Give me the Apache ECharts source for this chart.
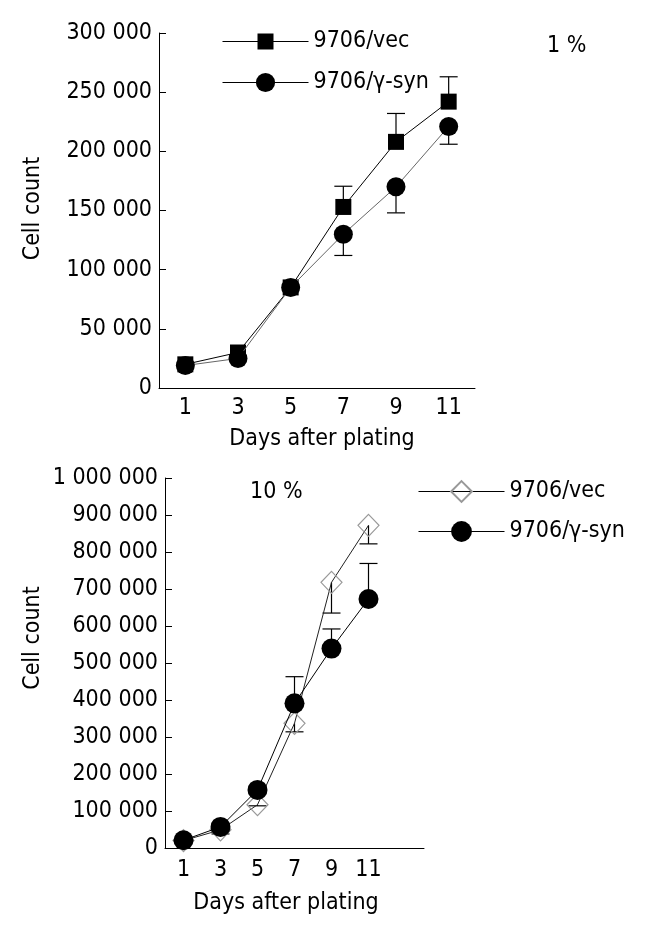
<!DOCTYPE html>
<html>
<head>
<meta charset="utf-8">
<script src="https://cdn.jsdelivr.net/npm/echarts@6/dist/echarts.min.js"></script>
<style>
html,body{margin:0;padding:0;background:#fff;}
#c{width:652px;height:933px;}
</style>
</head>
<body>
<div id="c"></div>
<script>
// ---- data ----
const daysTop = ['1','3','5','7','9','11'];
const daysBottom = ['1','3','5','7','9','11',''];

const vec1 = [20000, 30000, 85000, 153000, 208000, 242000];
const vec1Err = [0, 0, 0, 17500, 24000, 21000];
const syn1 = [19000, 25000, 85000, 130000, 170000, 221000];
const syn1Err = [0, 0, 0, 18000, 22000, 15000];

const vec10 = [20000, 49000, 117000, 337000, 718000, 872000];
const vec10Err = [0, 11000, 3000, 23000, 83000, 50000];
const syn10 = [21000, 57000, 157000, 391000, 539000, 673000];
const syn10Err = [0, 0, 0, 72000, 53000, 96000];

const nameMap = {vec1:'9706/vec', syn1:'9706/γ-syn', vec10:'9706/vec', syn10:'9706/γ-syn'};

const FONT = '"DejaVu Sans Condensed", "DejaVu Sans", sans-serif';
const FS = 23;
const fmt = v => String(v).replace(/\B(?=(\d{3})+(?!\d))/g, ' ');

function errSeries(vals, errs, dir, xi, yi) {
  const data = vals.map((v, i) => [i, v, v + dir * errs[i], errs[i]]);
  return {
    type: 'custom', xAxisIndex: xi, yAxisIndex: yi, z: 1, silent: true,
    data: data,
    renderItem: function (params, api) {
      if (api.value(3) <= 0) return null;
      const p0 = api.coord([api.value(0), api.value(1)]);
      const p1 = api.coord([api.value(0), api.value(2)]);
      const hw = 9;
      const st = {stroke: '#000', lineWidth: 1.2};
      return {type: 'group', children: [
        {type: 'line', shape: {x1: p0[0], y1: p0[1], x2: p1[0], y2: p1[1]}, style: st},
        {type: 'line', shape: {x1: p1[0] - hw, y1: p1[1], x2: p1[0] + hw, y2: p1[1]}, style: st}
      ]};
    }
  };
}

const axisLine = {lineStyle: {color: '#000', width: 1}};
const axisTick = {inside: true, length: 7, lineStyle: {color: '#000', width: 1}};
const labelStyle = {color: '#000', fontFamily: FONT, fontSize: FS};

function legend(name, left, top, h) {
  return {
    data: [{name: name, lineStyle: {color: '#000', width: 1}}],
    left: left, top: top, orient: 'vertical', padding: 0,
    itemWidth: 86, itemHeight: h, itemGap: 0, selectedMode: false,
    formatter: n => nameMap[n],
    textStyle: {color: '#000', fontFamily: FONT, fontSize: FS, padding: [0,0,0,0]},
    lineStyle: {color: '#000', width: 1}
  };
}

const option = {
  animation: false,
  backgroundColor: '#fff',
  title: [
    {text: '1 %', left: 547, top: 35, padding: 0, textStyle: {color:'#000', fontFamily: FONT, fontSize: FS, fontWeight: 'normal'}},
    {text: '10 %', left: 250, top: 481, padding: 0, textStyle: {color:'#000', fontFamily: FONT, fontSize: FS, fontWeight: 'normal'}}
  ],
  legend: [
    legend('vec1', 222, 30, 20),
    legend('syn1', 222, 71, 24),
    legend('vec10', 418, 480, 26),
    legend('syn10', 418, 520, 26)
  ],
  grid: [
    {left: 159, top: 33, width: 316, height: 355},
    {left: 165, top: 478, width: 259, height: 370}
  ],
  xAxis: [
    {type: 'category', gridIndex: 0, data: daysTop, boundaryGap: true,
     axisLine: axisLine, axisTick: axisTick, axisLabel: Object.assign({margin: 9}, labelStyle),
     name: 'Days after plating', nameLocation: 'middle', nameGap: 40,
     nameTextStyle: Object.assign({padding: [0,0,0,10]}, labelStyle)},
    {type: 'category', gridIndex: 1, data: daysBottom, boundaryGap: true,
     axisLine: axisLine, axisTick: axisTick, axisLabel: Object.assign({margin: 11}, labelStyle),
     name: 'Days after plating', nameLocation: 'middle', nameGap: 44,
     nameTextStyle: Object.assign({padding: [0,17,0,0]}, labelStyle)}
  ],
  yAxis: [
    {type: 'value', gridIndex: 0, min: 0, max: 300000, interval: 50000,
     axisLine: Object.assign({show: true}, axisLine), axisTick: Object.assign({show: true}, axisTick),
     splitLine: {show: false},
     axisLabel: Object.assign({margin: 7, formatter: fmt}, labelStyle),
     name: 'Cell count', nameLocation: 'middle', nameGap: 114,
     nameTextStyle: Object.assign({padding: [0,0,0,4]}, labelStyle)},
    {type: 'value', gridIndex: 1, min: 0, max: 1000000, interval: 100000,
     axisLine: Object.assign({show: true}, axisLine), axisTick: Object.assign({show: true}, axisTick),
     splitLine: {show: false},
     axisLabel: Object.assign({margin: 7, formatter: fmt}, labelStyle),
     name: 'Cell count', nameLocation: 'middle', nameGap: 120,
     nameTextStyle: Object.assign({padding: [0,0,0,50]}, labelStyle)}
  ],
  series: [
    errSeries(vec1, vec1Err, 1, 0, 0),
    errSeries(syn1, syn1Err, -1, 0, 0),
    errSeries(vec10, vec10Err, -1, 1, 1),
    errSeries(syn10, syn10Err, 1, 1, 1),
    {name: 'vec1', type: 'line', xAxisIndex: 0, yAxisIndex: 0, data: vec1, z: 3,
     symbol: 'rect', symbolSize: 16, itemStyle: {color: '#000'},
     lineStyle: {color: '#000', width: 1}},
    {name: 'syn1', type: 'line', xAxisIndex: 0, yAxisIndex: 0, data: syn1, z: 4,
     symbol: 'circle', symbolSize: 19, itemStyle: {color: '#000'},
     lineStyle: {color: '#666', width: 1}},
    {name: 'vec10', type: 'line', xAxisIndex: 1, yAxisIndex: 1, data: vec10, z: 3,
     symbol: 'diamond', symbolSize: [21, 22],
     itemStyle: {color: 'rgba(255,255,255,0)', borderColor: '#999', borderWidth: 1.2},
     lineStyle: {color: '#222', width: 1}},
    {name: 'syn10', type: 'line', xAxisIndex: 1, yAxisIndex: 1, data: syn10, z: 4,
     symbol: 'circle', symbolSize: 20, itemStyle: {color: '#000'},
     lineStyle: {color: '#000', width: 1}}
  ]
};

const chart = echarts.init(document.getElementById('c'), null, {renderer: 'canvas'});
chart.setOption(option);
</script>
</body>
</html>
